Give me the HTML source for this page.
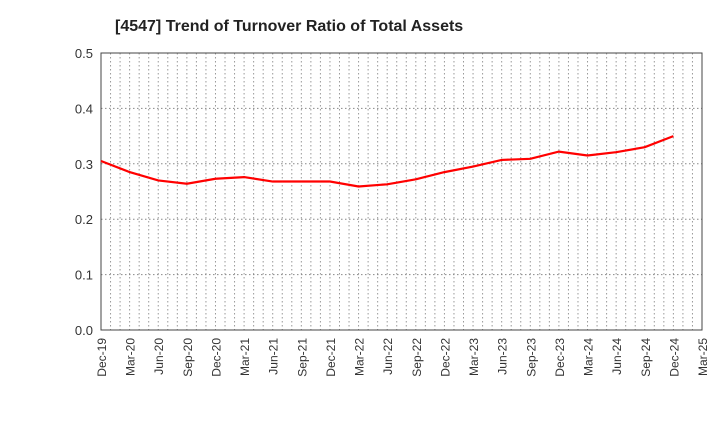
<!DOCTYPE html>
<html><head><meta charset="utf-8"><style>
body{margin:0;background:#fff;font-family:"Liberation Sans",sans-serif;}
</style></head><body>
<svg id="chart" width="720" height="440" xmlns="http://www.w3.org/2000/svg">
<text x="115" y="31" font-size="16" font-weight="bold" fill="#222">[4547]  Trend of Turnover Ratio of Total Assets</text>
<g id="grid"></g><g id="axes"></g><g id="series"></g>
</svg>
<script>
const categories=["Dec-19","Mar-20","Jun-20","Sep-20","Dec-20","Mar-21","Jun-21","Sep-21","Dec-21","Mar-22","Jun-22","Sep-22","Dec-22","Mar-23","Jun-23","Sep-23","Dec-23","Mar-24","Jun-24","Sep-24","Dec-24","Mar-25"];
const values=[0.305,0.285,0.270,0.264,0.273,0.276,0.268,0.268,0.268,0.259,0.263,0.272,0.285,0.295,0.307,0.309,0.322,0.315,0.321,0.330,0.350];
const yTicks=[0.0,0.1,0.2,0.3,0.4,0.5];
const L=101,R=702,T=53,B=330,ns="http://www.w3.org/2000/svg";
const x=i=>L+(R-L)*i/(categories.length-1);
const y=v=>B-(B-T)*v/0.5;
function mk(t,a,p){const e=document.createElementNS(ns,t);for(const k in a)e.setAttribute(k,a[k]);p.appendChild(e);return e;}
const g=document.getElementById('grid'),ax=document.getElementById('axes'),s=document.getElementById('series');
for(let m=1;m<(categories.length-1)*3;m++){const xx=L+(R-L)*m/((categories.length-1)*3);
const ln=mk('line',{x1:xx,x2:xx,y1:T,y2:B,stroke:'#999','stroke-dasharray':'1.5,2.5','stroke-width':1},g);

}
yTicks.forEach(v=>{if(v>0&&v<0.5){const ln=mk('line',{x1:L,x2:R,y1:y(v),y2:y(v),stroke:'#888','stroke-dasharray':'1.5,2.5','stroke-width':1},g);

}
const t=mk('text',{x:L-8,y:y(v)+5,'text-anchor':'end','font-size':13,fill:'#333'},ax);t.textContent=v.toFixed(1);

});
const fr=mk('rect',{x:L,y:T,width:R-L,height:B-T,fill:'none',stroke:'#444','stroke-width':1},ax);


categories.forEach((c,i)=>{const t=mk('text',{transform:`translate(${x(i)+5},${B+8}) rotate(-90)`,'text-anchor':'end','font-size':12,fill:'#333'},ax);t.textContent=c;

});
const p=mk('polyline',{points:values.map((v,i)=>x(i)+','+y(v)).join(' '),fill:'none',stroke:'#f00','stroke-width':2.2},s);


</script>
</body></html>
